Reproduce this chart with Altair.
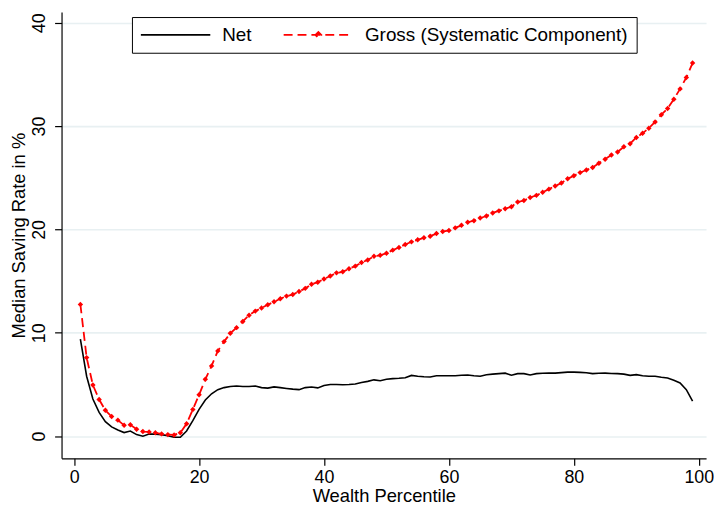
import altair as alt
import pandas as pd

percentile = list(range(1, 100))

net = [9.4, 5.8, 3.6, 2.3, 1.4, 0.9, 0.6, 0.35, 0.5, 0.15,
       0.0, 0.2, 0.2, 0.15, 0.05, -0.1, -0.1, 0.5, 1.5, 2.6,
       3.5, 4.1, 4.5, 4.7, 4.8, 4.85, 4.8, 4.8, 4.85, 4.7,
       4.65, 4.77, 4.7, 4.62, 4.55, 4.5, 4.7, 4.75, 4.67, 4.9,
       5.0, 5.0, 4.98, 5.0, 5.05, 5.2, 5.3, 5.45, 5.37, 5.5,
       5.57, 5.6, 5.65, 5.88, 5.8, 5.75, 5.73, 5.85, 5.85, 5.85,
       5.85, 5.9, 5.92, 5.85, 5.8, 5.95, 6.0, 6.05, 6.1, 5.9,
       6.05, 6.05, 5.92, 6.05, 6.08, 6.1, 6.1, 6.15, 6.2, 6.2,
       6.17, 6.14, 6.05, 6.08, 6.1, 6.06, 6.05, 6.0, 5.88, 5.95,
       5.85, 5.79, 5.79, 5.7, 5.63, 5.4, 5.15, 4.5, 3.4]

gross = [12.75, 7.6, 4.95, 3.55, 2.5, 1.9, 1.55, 1.05, 1.1, 0.67,
         0.45, 0.41, 0.33, 0.22, 0.15, 0.12, 0.33, 1.2, 2.58, 4.0,
         5.5, 6.8, 8.25, 9.15, 9.95, 10.5, 11.1, 11.7, 12.1, 12.4,
         12.72, 13.0, 13.3, 13.55, 13.7, 14.0, 14.3, 14.7, 14.9, 15.2,
         15.5, 15.8, 15.9, 16.2, 16.45, 16.8, 17.05, 17.4, 17.5, 17.7,
         18.0, 18.25, 18.55, 18.8, 19.0, 19.2, 19.35, 19.6, 19.8, 19.9,
         20.15, 20.4, 20.7, 20.85, 21.1, 21.3, 21.6, 21.8, 22.0, 22.2,
         22.65, 22.8, 23.1, 23.3, 23.6, 23.9, 24.2, 24.5, 24.9, 25.2,
         25.5, 25.75, 26.0, 26.4, 26.8, 27.2, 27.5, 28.0, 28.3, 28.9,
         29.3, 29.8, 30.4, 31.1, 31.7, 32.6, 33.6, 34.7, 36.1]

series_names = ["Net", "Gross (Systematic Component)"]
x_ticks = [0, 20, 40, 60, 80, 100]
y_ticks = [0, 10, 20, 30, 40]

df_net = pd.DataFrame({"pct": percentile, "rate": net})
df_gross = pd.DataFrame({"pct": percentile, "rate": gross})
df_legend = pd.DataFrame({"pct": [0, 0], "rate": [0, 0], "series": series_names})

FONT = "Liberation Sans"
RED = "#ff0000"

xscale = alt.Scale(domain=[-2.016, 101.16], nice=False, zero=False)
yscale = alt.Scale(domain=[-2.14, 41.03], nice=False, zero=False)

xaxis = alt.Axis(values=x_ticks, title="Wealth Percentile", grid=False,
                 tickSize=7, labelPadding=3, titlePadding=1)
yaxis = alt.Axis(values=y_ticks, title="Median Saving Rate in %", grid=True,
                 tickSize=7, labelAngle=270, labelAlign="center", labelBaseline="bottom",
                 labelPadding=6, titlePadding=2)

X = alt.X("pct:Q", scale=xscale, axis=xaxis)
Y = alt.Y("rate:Q", scale=yscale, axis=yaxis)

legend = alt.Legend(
    title=None, orient="none", legendX=71, legendY=5, direction="horizontal",
    strokeColor="black", padding=8, symbolSize=324,
    labelFontSize=19, labelFont=FONT, labelColor="black", labelOffset=63, columnPadding=28,
    labelLimit=500, symbolStrokeWidth=1.8, fillColor="white",
    labelExpr="datum.value == 'Net' ? datum.label : datum.label + '\u00a0\u00a0'",
)

net_line = alt.Chart(df_net).mark_line(color="black", strokeWidth=1.6).encode(x=X, y=Y)
gross_line = alt.Chart(df_gross).mark_line(color=RED, strokeWidth=1.8, strokeDash=[9, 5]).encode(x=X, y=Y)
gross_pts = alt.Chart(df_gross).mark_point(shape="diamond", filled=True, size=30, color=RED, opacity=1).encode(x=X, y=Y)

legend_layer = alt.Chart(df_legend).transform_filter("false").mark_point(filled=False, opacity=1, strokeWidth=1.8).encode(
    x=X, y=Y,
    color=alt.Color("series:N", scale=alt.Scale(domain=series_names, range=["#000000", RED]), legend=legend),
    shape=alt.Shape("series:N", scale=alt.Scale(domain=series_names, range=[
        "M-1,0L6.78,0", "M-1,0L6.78,0M2.56,0L2.89,-0.33L3.22,0L2.89,0.33Z"]), legend=legend),
    strokeDash=alt.StrokeDash("series:N", scale=alt.Scale(domain=series_names, range=[[1, 0], [9, 5]]), legend=legend),
)

chart = alt.layer(net_line, gross_line, gross_pts, legend_layer).properties(
    width=650, height=450,
    background="white",
    autosize=alt.AutoSizeParams(type="none"),
    padding={"left": 54, "top": 2, "right": 8, "bottom": 47},
).configure_view(stroke=None).configure_axis(
    labelFont=FONT, titleFont=FONT, labelFontSize=18, titleFontSize=18.5,
    titleFontWeight="normal", labelColor="black", titleColor="black",
    domainColor="black", tickColor="black", domainWidth=1.2, tickWidth=1.2,
    gridColor="#e8f0f2", gridWidth=1.6,
)

chart.save("out.html", embed_options={"renderer": "svg", "actions": False})
